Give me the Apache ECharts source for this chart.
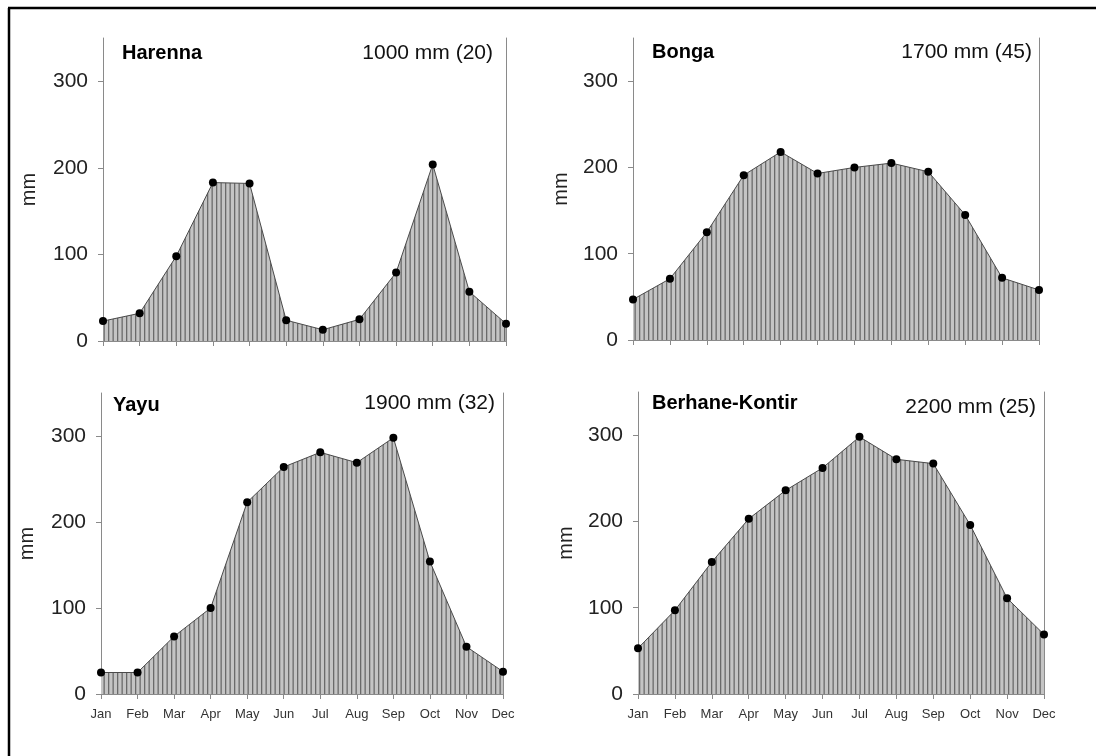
<!DOCTYPE html>
<html>
<head>
<meta charset="utf-8">
<script src="https://cdn.jsdelivr.net/npm/echarts@6/dist/echarts.min.js"></script>
<style>
html,body{margin:0;padding:0;background:#fff;}
#chart{width:1096px;height:756px;}
</style>
</head>
<body>
<div id="chart"></div>
<script>
// ---- data ----
const months = ['Jan','Feb','Mar','Apr','May','Jun','Jul','Aug','Sep','Oct','Nov','Dec'];
const stations = ['Harenna','Bonga','Yayu','Berhane-Kontir'];
const annualLabels = ['1000 mm (20)','1700 mm (45)','1900 mm (32)','2200 mm (25)'];
const harenna = [23, 32, 98, 183, 182, 24, 13, 25, 79, 204, 57, 20];
const bonga   = [47, 71, 125, 191, 218, 193, 200, 205, 195, 145, 72, 58];
const yayu    = [25, 25, 67, 100, 223, 264, 281, 269, 298, 154, 55, 26];
const berhane = [53, 97, 153, 203, 236, 262, 298, 272, 267, 196, 111, 69];
const yTicks = [0, 100, 200, 300];
const seriesData = [harenna, bonga, yayu, berhane];

// ---- layout ----
const grids = [
  {left:103, top:38, width:403, height:303},
  {left:633, top:38, width:406, height:302},
  {left:101, top:393, width:402, height:301},
  {left:638, top:392, width:406, height:302}
];
const titlePos = [
  {l:[122,53], r:[493,53]},
  {l:[652,52], r:[1032,52]},
  {l:[113,405], r:[495,403]},
  {l:[652,403], r:[1036,407]}
];
const nameGaps = [64, 62, 64, 62];

// stripe pattern
const pc = document.createElement('canvas');
pc.width = 9; pc.height = 10;
const ctx = pc.getContext('2d');
ctx.fillStyle = '#c4c4c4';
ctx.fillRect(0,0,9,10);
ctx.fillStyle = '#6a6a6a';
ctx.fillRect(0,0,1.3,10);
ctx.fillRect(4.5,0,1.3,10);

const font = "'Liberation Sans', Arial, sans-serif";
const axisGray = '#8a8a8a';

const option = {
  animation:false,
  backgroundColor:'#fff',
  grid: grids.map(g => Object.assign({containLabel:false}, g)),
  xAxis: grids.map((g,i) => ({
    type:'category', gridIndex:i, data:months, boundaryGap:false,
    axisLine:{show:true, lineStyle:{color:axisGray, width:1}},
    axisTick:{show:true, length:5, inside:false, lineStyle:{color:axisGray}},
    axisLabel:{show:i>=2, fontSize:13, color:'#333', margin:14, fontFamily:font, interval:0},
    splitLine:{show:false}
  })),
  yAxis: [].concat(...grids.map((g,i) => ([
    {
      type:'value', gridIndex:i, min:0, max:350, interval:100,
      name:'mm', nameLocation:'middle', nameGap:nameGaps[i], nameRotate:90,
      nameTextStyle:{fontSize:20, color:'#222', fontFamily:font},
      axisLine:{show:true, lineStyle:{color:axisGray, width:1}},
      axisTick:{show:true, length:5, customValues:yTicks, lineStyle:{color:axisGray}},
      axisLabel:{fontSize:21, color:'#222', margin:15, fontFamily:font, customValues:yTicks},
      splitLine:{show:false}
    },
    {
      type:'value', gridIndex:i, min:0, max:350, position:'right',
      axisLine:{show:true, lineStyle:{color:axisGray, width:1}},
      axisTick:{show:false}, axisLabel:{show:false}, splitLine:{show:false}
    }
  ]))),
  series: seriesData.map((d,i) => ({
    type:'line', name:stations[i], xAxisIndex:i, yAxisIndex:i*2, data:d,
    symbol:'circle', symbolSize:8,
    itemStyle:{color:'#000'},
    lineStyle:{color:'#4a4a4a', width:1},
    areaStyle:{color:{image:pc, repeat:'repeat'}, opacity:1},
    z:3
  })),
  graphic: [].concat(
    [
      {type:'line', shape:{x1:8, y1:8, x2:1096, y2:8}, style:{stroke:'#000', lineWidth:2.5}, silent:true},
      {type:'line', shape:{x1:9, y1:8, x2:9, y2:756}, style:{stroke:'#000', lineWidth:2.5}, silent:true}
    ],
    ...titlePos.map((p,i) => ([
      {type:'text', x:p.l[0], y:p.l[1], style:{text:stations[i], font:'bold 20px '+font, fill:'#000', textAlign:'left', textVerticalAlign:'middle'}},
      {type:'text', x:p.r[0], y:p.r[1], style:{text:annualLabels[i], font:'21px '+font, fill:'#111', textAlign:'right', textVerticalAlign:'middle'}}
    ]))
  )
};

const chart = echarts.init(document.getElementById('chart'), null, {renderer:'canvas'});
chart.setOption(option);
</script>
</body>
</html>
